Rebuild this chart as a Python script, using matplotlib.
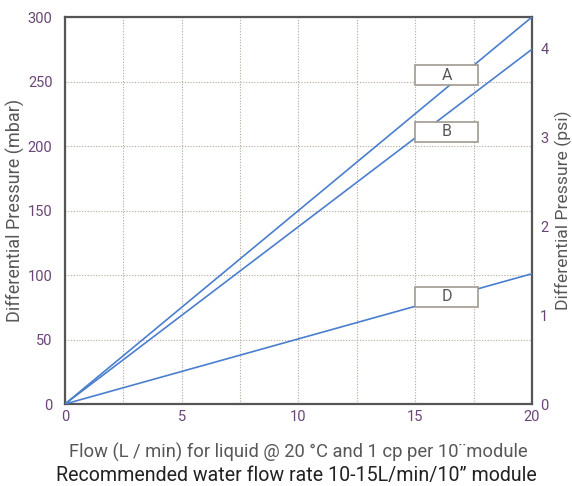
import numpy as np
import matplotlib
matplotlib.use('Agg')
import matplotlib.pyplot as plt
from matplotlib.patches import Rectangle

plt.rcParams['font.family'] = ['Roboto', 'DejaVu Sans']

# данные: расход (л/мин) и перепад давления (мбар) для кривых A, B, D
flow = [0, 20]
curve_a = [0, 300]
curve_b = [0, 275]
curve_d = [0, 101]
curve_names = ['A', 'B', 'D']
label_y = [255, 211, 83]

x_ticks = [0, 5, 10, 15, 20]
y_ticks = [0, 50, 100, 150, 200, 250, 300]
psi_ticks = [0, 1, 2, 3, 4]
MBAR_PER_PSI = 68.95

line_col = '#4a7fcf'
tick_col = '#6b4577'
text_col = '#575757'
spine_col = '#555555'
grid_col = '#b5a898'

fig = plt.figure(figsize=(5.72, 4.86), dpi=100)
ax = fig.add_axes([0.1136, 0.1687, 0.8164, 0.7963])

for ys in (curve_a, curve_b, curve_d):
    ax.plot(flow, ys, color=line_col, lw=1.2, zorder=3)

ax.set_xlim(0, 20)
ax.set_ylim(0, 300)
ax.set_xticks(x_ticks)
ax.set_yticks(y_ticks)
ax.set_xticks(np.arange(2.5, 20, 2.5), minor=True)

ax.grid(True, which='both', axis='x', ls=(0, (1, 1.5)), color=grid_col, lw=0.8)
ax.grid(True, which='major', axis='y', ls=(0, (1, 1.5)), color=grid_col, lw=0.8)
ax.tick_params(which='both', length=0, colors=tick_col, labelsize=10.5)
ax.tick_params(axis='y', pad=9)
ax.tick_params(axis='x', pad=4)

for s in ax.spines.values():
    s.set_color(spine_col)
    s.set_linewidth(1.6)

ax.set_ylabel('Differential Pressure (mbar)', color=text_col, fontsize=13,
              va='center')
ax.yaxis.set_label_coords(-0.107, 0.5)
ax.set_xlabel('Flow (L / min) for liquid @ 20 °C and 1 cp per 10\u00a8module',
              color=text_col, fontsize=13.2, va='center')
ax.xaxis.set_label_coords(0.5, -0.124)

# правая ось в psi
ax2 = ax.twinx()
ax2.set_ylim(0, 300 / MBAR_PER_PSI)
ax2.set_yticks(psi_ticks)
ax2.tick_params(length=0, colors=tick_col, labelsize=10.5, pad=6)
for s in ax2.spines.values():
    s.set_visible(False)
ax2.set_ylabel('Differential Pressure (psi)', color=text_col, fontsize=12.6,
               va='center')
ax2.yaxis.set_label_coords(1.068, 0.5)

# подписи кривых в рамках
for name, yv in zip(curve_names, label_y):
    ax.add_patch(Rectangle((15.0, yv - 8), 2.7, 16, fc='white', ec='#a09a90',
                           lw=1.2, zorder=4))
    ax.text(16.35, yv, name, ha='center', va='center', fontsize=11.5,
            color=text_col, zorder=5)

fig.text(0.519, 0.022, 'Recommended water flow rate 10-15L/min/10\u201d module',
         ha='center', va='center', fontsize=14.1, color='#222222')

fig.savefig('out.png', dpi=100)
